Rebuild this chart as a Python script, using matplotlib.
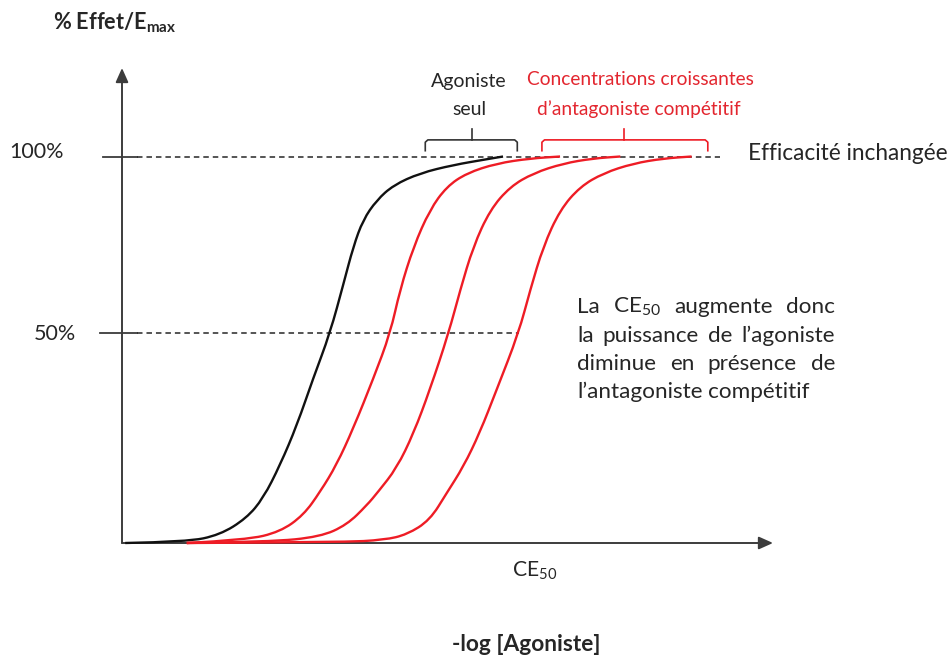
import matplotlib.pyplot as plt
from matplotlib.path import Path
from matplotlib.patches import PathPatch

plt.rcParams["font.family"] = ["Lato", "DejaVu Sans"]
plt.rcParams["mathtext.fontset"] = "custom"
plt.rcParams["mathtext.rm"] = "Lato"
plt.rcParams["mathtext.it"] = "Lato:italic"
plt.rcParams["mathtext.bf"] = "Lato:bold"

# dose-response curves
# x = -log[agonist] in arbitrary units (0 at the y axis), y = % of Emax
agonist_x = [0.5, 10.0, 15.1, 19.2, 21.8, 24.4, 27.0, 29.5, 32.1, 34.2,
             35.7, 37.2, 39.3, 41.9, 46.0, 51.1, 56.3, 58.8]
agonist_y = [0.0, 0.3, 2.1, 6.4, 11.6, 20.2, 30.5, 42.6, 54.3, 67.2,
             76.7, 83.6, 88.7, 92.6, 95.7, 97.8, 99.3, 100.0]

antag1_x = [10.0, 19.2, 24.4, 28.0, 30.6, 33.1, 35.7, 38.8, 41.4, 42.9,
            45.0, 47.5, 50.1, 53.2, 57.8, 63.0, 67.6]
antag1_y = [0.0, 0.8, 2.9, 7.2, 13.3, 20.2, 29.7, 42.6, 54.3, 65.5,
            76.7, 86.2, 92.2, 95.7, 98.2, 99.5, 100.0]

antag2_x = [10.0, 22.8, 30.6, 34.7, 37.8, 39.5, 42.4, 45.0, 47.5, 50.4,
            52.2, 54.2, 56.8, 59.9, 63.5, 68.1, 72.7, 76.9]
antag2_y = [0.0, 0.3, 1.6, 4.7, 9.8, 13.2, 19.4, 28.4, 39.6, 54.3,
            65.5, 76.7, 86.2, 92.2, 95.7, 98.2, 99.5, 100.0]

antag3_x = [10.0, 34.0, 40.5, 44.0, 47.5, 50.1, 52.7, 55.2, 57.8, 61.2, 63.0,
            65.0, 67.6, 70.7, 74.3, 78.9, 83.6, 87.9]
antag3_y = [0.0, 0.2, 0.8, 2.2, 5.9, 12.9, 19.8, 28.5, 39.6, 54.3, 65.5,
            76.7, 86.2, 92.2, 95.7, 98.2, 99.5, 100.0]

# reference levels on the y axis
level_labels = ["100%", "50%"]
level_y = [100.0, 54.3]
level_end_x = [92.3, 61.3]

W, H = 953, 658
TXT = "#262626"
RED = "#ee1c25"
RED_TXT = "#e3262f"
AXC = "#3c3c3c"


def fxy(px, py):
    # picture pixel (top-left origin) -> figure fraction
    return px / W, 1 - py / H


def smooth_curve(xs, ys, color):
    # quadratic bezier through the midpoints, read points act as control points
    verts = [(xs[0], ys[0])]
    codes = [Path.MOVETO]
    for i in range(1, len(xs) - 1):
        verts += [(xs[i], ys[i]), ((xs[i] + xs[i + 1]) / 2, (ys[i] + ys[i + 1]) / 2)]
        codes += [Path.CURVE3, Path.CURVE3]
    verts.append((xs[-1], ys[-1]))
    codes.append(Path.LINETO)
    ax.add_patch(PathPatch(Path(verts, codes), fill=False, edgecolor=color, lw=1.7,
                           zorder=3, clip_on=False, joinstyle="round"))


fig = plt.figure(figsize=(W / 100, H / 100), dpi=100)
ax = fig.add_axes([122 / W, (H - 543) / H, (773 - 122) / W, (543 - 68) / H])
ax.set_xlim(0, 100.46)
ax.set_ylim(0, 122.9)
ax.axis("off")

# axes with arrow heads
arrow = dict(arrowstyle="-|>,head_length=0.85,head_width=0.38", mutation_scale=10,
             color=AXC, lw=1.4, shrinkA=0, shrinkB=0)
ax.annotate("", xy=(100.46, 0), xytext=(0, 0), arrowprops=arrow, annotation_clip=False)
ax.annotate("", xy=(0, 122.9), xytext=(0, 0), arrowprops=arrow, annotation_clip=False)

# 100% and 50% levels: short solid tick then dashed line
for lab, yv, xe, tick0 in zip(level_labels, level_y, level_end_x, [-2.9, -3.4]):
    ax.plot([tick0, 2.3], [yv, yv], color=AXC, lw=1.3, clip_on=False)
    ax.plot([2.3, xe], [yv, yv], color=TXT, lw=1.1, dashes=(3.6, 2.6), clip_on=False)

fig.text(*fxy(64, 158), "100%", ha="right", va="baseline", fontsize=15.5, color=TXT)
fig.text(*fxy(76, 340), "50%", ha="right", va="baseline", fontsize=15.5, color=TXT)

# curves
smooth_curve(agonist_x, agonist_y, "#111111")
for xs, ys in [(antag1_x, antag1_y), (antag2_x, antag2_y), (antag3_x, antag3_y)]:
    smooth_curve(xs, ys, RED)


def brace(x0, x1, xc, color):
    yb, yl, yt = 104.3, 101.5, 107.2
    ax.plot([x0, x0, x0 + 0.4, x1 - 0.4, x1, x1],
            [yl, yb - 0.6, yb, yb, yb - 0.6, yl],
            color=color, lw=1.2, clip_on=False, solid_joinstyle="round")
    ax.plot([xc, xc], [yb, yt], color=color, lw=1.2, clip_on=False)


brace(46.8, 61.0, 54.0, "#333333")
brace(64.8, 90.4, 77.5, RED)

fig.text(*fxy(469, 87), "Agoniste", ha="center", va="baseline", fontsize=14, color=TXT)
fig.text(*fxy(469, 115), "seul", ha="center", va="baseline", fontsize=14, color=TXT)
fig.text(*fxy(640, 85), "Concentrations croissantes", ha="center", va="baseline",
         fontsize=13.8, color=RED_TXT)
fig.text(*fxy(639, 115), "d\u2019antagoniste compétitif", ha="center", va="baseline",
         fontsize=13.8, color=RED_TXT)

fig.text(*fxy(748, 160), "Efficacité inchangée", ha="left", va="baseline",
         fontsize=16.3, color=TXT)

# justified paragraph
para = [["La", "CE$_{50}$", "augmente", "donc"],
        ["la", "puissance", "de", "l\u2019agoniste"],
        ["diminue", "en", "présence", "de"],
        ["l\u2019antagoniste", "compétitif"]]
para_base = [313, 341.5, 370, 398]
left_px, right_px = 577, 835
renderer = fig.canvas.get_renderer()
for i, words in enumerate(para):
    objs = [fig.text(0, 0, w, ha="left", va="baseline", fontsize=16.2, color=TXT)
            for w in words]
    widths = [o.get_window_extent(renderer).width for o in objs]
    if i < len(para) - 1:
        gap = (right_px - left_px - sum(widths)) / (len(words) - 1)
    else:
        gap = 5.5
    x = left_px
    for o, wd in zip(objs, widths):
        o.set_position(fxy(x, para_base[i]))
        x += wd + gap

fig.text(*fxy(512, 577), "CE$_{50}$", ha="left", va="baseline", fontsize=15.2, color=TXT)
fig.text(*fxy(526, 651), "-log [Agoniste]", ha="center", va="baseline", fontsize=16.4,
         fontweight="bold", color=TXT)
fig.text(*fxy(53, 30), r"% Effet/E$_{\mathbf{max}}$", ha="left", va="baseline",
         fontsize=15.6, fontweight="bold", color=TXT)

fig.savefig("out.png", dpi=100, facecolor="white")
